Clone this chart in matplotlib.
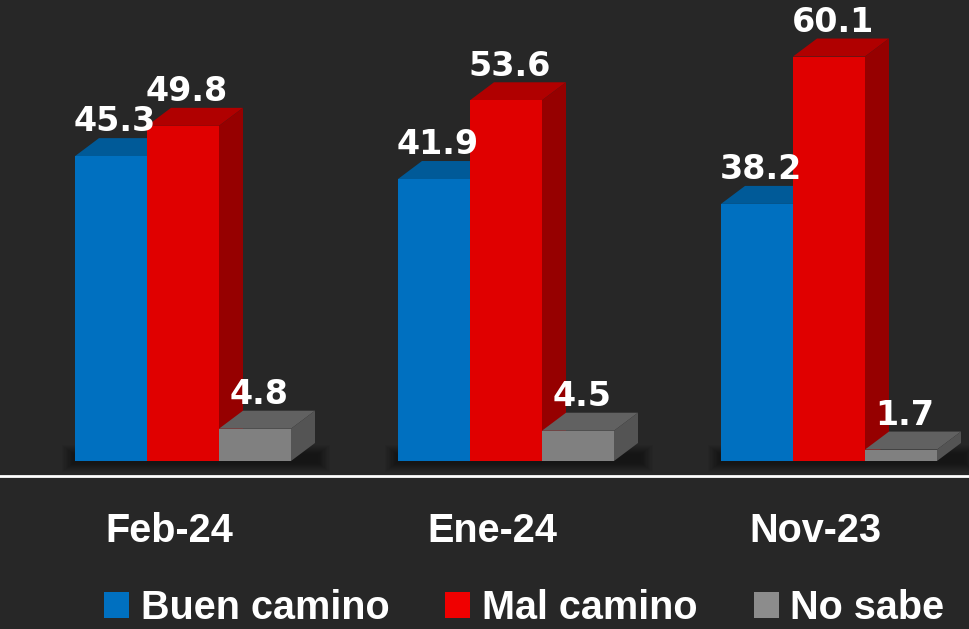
import matplotlib
matplotlib.use("Agg")
import matplotlib.pyplot as plt
from matplotlib.patches import Polygon, Patch
import numpy as np

categories = ["Feb-24", "Ene-24", "Nov-23"]
series_names = ["Buen camino", "Mal camino", "No sabe"]
buen = [45.3, 41.9, 38.2]
mal = [49.8, 53.6, 60.1]
nosabe = [4.8, 4.5, 1.7]
values = [buen, mal, nosabe]

front_cols = ["#0070C0", "#E00000", "#808080"]
top_cols = ["#005A98", "#B00000", "#616161"]
side_cols = ["#004C80", "#960000", "#545454"]
legend_cols = ["#0070C0", "#F00000", "#8C8C8C"]
bg = "#272727"

W, H = 969, 629
fig = plt.figure(figsize=(W / 100, H / 100), dpi=100, facecolor=bg)
ax = fig.add_axes([0, 0, 1, 1])
ax.set_facecolor(bg)
ax.set_xlim(-183 / 323, (W - 183) / 323)
ax.set_ylim(-168 / 6.73, (H - 168) / 6.73)
ax.axis("off")

w = 72 / 323
dx = 24 / 323
dy = 18 / 6.73
x = np.arange(len(categories))
offsets = [-w, 0, w]

# soft shadow under each group
for i in x:
    left = i - 1.5 * w
    right = i + 1.5 * w + dx
    for k in range(10):
        e = 0.004 * k
        ax.add_patch(Polygon([(left - 0.005 - e, -0.3 - 0.15 * k), (right + 0.01 + e, -0.3 - 0.15 * k),
                              (right + 0.01 + e, 1.0 + 0.15 * k), (left - 0.005 - e, 1.0 + 0.15 * k)],
                             closed=True, facecolor="black", edgecolor="none", alpha=0.045, zorder=1))

for s in range(3):
    for i in x:
        v = values[s][i]
        xl = i + offsets[s] - w / 2
        xr = xl + w
        # top face
        ax.add_patch(Polygon([(xl, v), (xr, v), (xr + dx, v + dy), (xl + dx, v + dy)],
                             closed=True, facecolor=top_cols[s], edgecolor="none", zorder=2 + s))
        # side face
        ax.add_patch(Polygon([(xr, 0), (xr + dx, dy), (xr + dx, v + dy), (xr, v)],
                             closed=True, facecolor=side_cols[s], edgecolor="none", zorder=2 + s))
    ax.bar(x + offsets[s], values[s], width=w, color=front_cols[s], edgecolor="none", zorder=2.5 + s)
    for i in x:
        v = values[s][i]
        ax.text(i + offsets[s] + 0.012, v + dy + 1.0, f"{v:.1f}", ha="center", va="baseline",
                color="white", fontsize=24, fontweight="bold", family="DejaVu Sans", zorder=10)

ax.axhline(-2.23, color="white", lw=2, zorder=5)

for i in x:
    ax.text(i - 0.042, -12.04, categories[i], ha="center", va="baseline", color="white",
            fontsize=28.5, fontweight="bold", family="Liberation Sans", zorder=10)

handles = [Patch(facecolor=c, edgecolor="none") for c in legend_cols]
leg = fig.legend(handles, series_names, loc="center left", bbox_to_anchor=(104 / W, 21 / H),
                 ncol=3, frameon=False, prop={"family": "Liberation Sans", "weight": "bold", "size": 28.5},
                 handlelength=0.625, handleheight=0.625, handletextpad=0.3, columnspacing=1.42,
                 borderpad=0, borderaxespad=0)
for t in leg.get_texts():
    t.set_color("white")

fig.savefig("out.png", dpi=100, facecolor=bg)
